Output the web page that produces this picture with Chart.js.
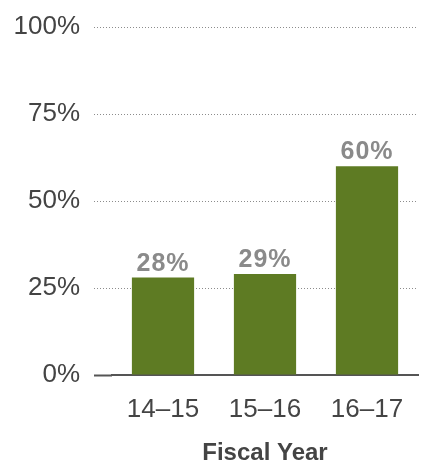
<!DOCTYPE html>
<html>
<head>
<meta charset="utf-8">
<script src="https://cdn.jsdelivr.net/npm/chart.js@4"></script>
<style>
  html, body { margin: 0; padding: 0; background: #fff; }
  #wrap { width: 428px; height: 465px; position: relative; }
</style>
</head>
<body>
<div id="wrap"><canvas id="fyChart"></canvas></div>
<script>
const years = ['14\u201315', '15\u201316', '16\u201317'];
const shares = [28, 29, 60];
const yTicks = [0, 25, 50, 75, 100];

const barGreen = '#5e7b23';
const labelGrey = '#8a8a8a';
const textDark = '#444444';
const sans = "'Liberation Sans', Arial, sans-serif";

// value labels above each bar
const valueLabels = {
    id: 'valueLabels',
    afterDatasetsDraw(chart) {
        const ctx = chart.ctx;
        const meta = chart.getDatasetMeta(0);
        ctx.save();
        ctx.font = "bold 25px 'Liberation Sans', Arial, sans-serif";
        ctx.letterSpacing = '1px';
        ctx.fillStyle = labelGrey;
        ctx.textAlign = 'center';
        ctx.textBaseline = 'alphabetic';
        meta.data.forEach((bar, i) => {
            ctx.fillText(shares[i] + '%', bar.x, bar.y - 7);
        });
        ctx.restore();
    }
};

new Chart(document.getElementById('fyChart'), {
    type: 'bar',
    data: {
        labels: years,
        datasets: [{
            data: shares,
            backgroundColor: barGreen,
            barPercentage: 0.61,
            categoryPercentage: 1
        }]
    },
    options: {
        responsive: true,
        maintainAspectRatio: false,
        animation: false,
        layout: { padding: { top: 25, right: 10, left: 0, bottom: 0 } },
        plugins: {
            legend: { display: false },
            tooltip: { enabled: false }
        },
        scales: {
            y: {
                min: 0,
                max: 100,
                afterBuildTicks: (scale) => { scale.ticks = yTicks.map(v => ({ value: v })); },
                afterFit: (scale) => { scale.width = 112; },
                border: { display: false, dash: [1, 2] },
                grid: {
                    color: (c) => c.tick && c.tick.value === 0 ? 'rgba(0,0,0,0)' : '#8c8c8c',
                    lineWidth: 1,
                    tickLength: 18,
                    tickColor: (c) => c.tick && c.tick.value === 0 ? '#555' : '#8c8c8c',
                    tickWidth: (c) => c.tick && c.tick.value === 0 ? 2 : 1,
                    tickBorderDash: (c) => c.tick && c.tick.value === 0 ? [] : [1, 2]
                },
                ticks: {
                    padding: 14,
                    color: textDark,
                    font: { family: sans, size: 26, lineHeight: 1 },
                    callback: (v) => v + '%'
                }
            },
            x: {
                afterFit: (scale) => { scale.height = 90; },
                border: { display: true, color: '#555', width: 2 },
                grid: { display: false, drawTicks: false },
                ticks: {
                    padding: 19,
                    color: textDark,
                    font: { family: sans, size: 26 }
                },
                title: {
                    display: true,
                    text: 'Fiscal Year',
                    color: textDark,
                    padding: { top: 0, bottom: 0 },
                    font: { family: sans, size: 24, weight: 'bold', lineHeight: 1 }
                }
            }
        }
    },
    plugins: [valueLabels]
});
</script>
</body>
</html>
